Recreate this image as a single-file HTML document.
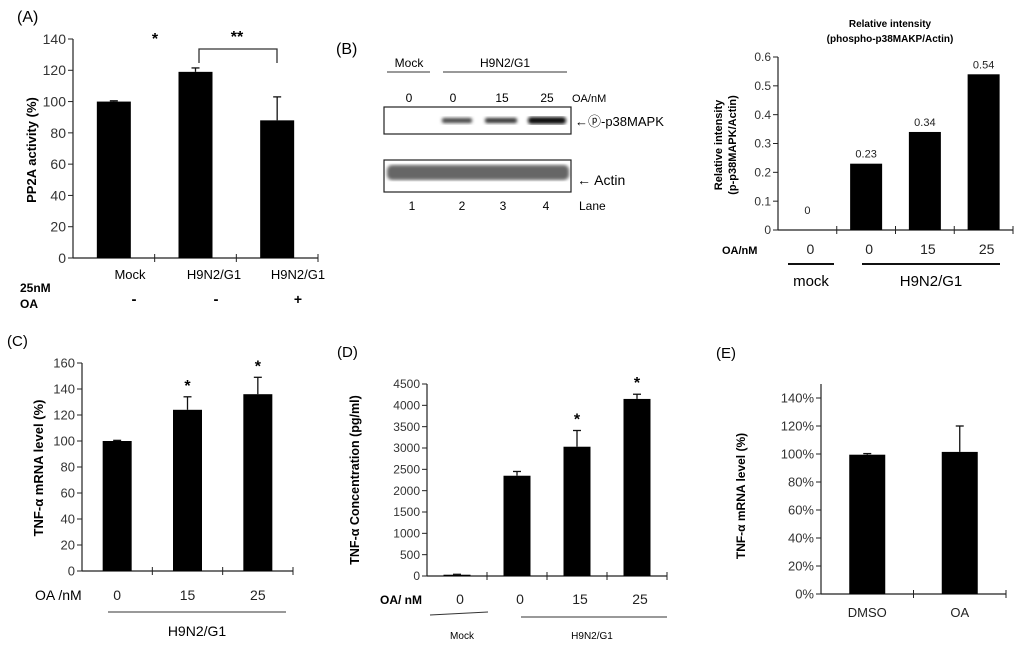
<!DOCTYPE html>
<html><head><meta charset="utf-8"><style>
html,body{margin:0;padding:0;background:#fff;}
svg{display:block;font-family:"Liberation Sans",Arial,sans-serif;}
</style></head><body>
<svg id="fig" width="1024" height="646" viewBox="0 0 1024 646" xmlns="http://www.w3.org/2000/svg">
<defs>
<filter id="blur1"><feGaussianBlur stdDeviation="1.6"/></filter>
</defs>
<g id="static">
<!-- Panel A -->
<text x="17" y="22" font-size="16">(A)</text>
<text transform="translate(36,150) rotate(-90)" text-anchor="middle" font-size="13" font-weight="bold">PP2A activity (%)</text>
<text x="155" y="44" font-size="16" font-weight="bold" text-anchor="middle">*</text>
<text x="237" y="42" font-size="16" font-weight="bold" text-anchor="middle">**</text>
<path d="M199,63 V49 H277 V63" fill="none" stroke="#333" stroke-width="1.3"/>
<text x="130" y="279" font-size="13" text-anchor="middle">Mock</text>
<text x="214" y="279" font-size="13" text-anchor="middle">H9N2/G1</text>
<text x="298" y="279" font-size="13" text-anchor="middle">H9N2/G1</text>
<text x="20" y="292" font-size="12" font-weight="bold">25nM</text>
<text x="20" y="308" font-size="12" font-weight="bold">OA</text>
<text x="134" y="304" font-size="15" font-weight="bold" text-anchor="middle">-</text>
<text x="216" y="304" font-size="15" font-weight="bold" text-anchor="middle">-</text>
<text x="298" y="304" font-size="14" font-weight="bold" text-anchor="middle">+</text>

<!-- Panel B blot -->
<text x="336" y="54" font-size="16">(B)</text>
<text x="409" y="67" font-size="12" text-anchor="middle">Mock</text>
<line x1="387" y1="72" x2="430" y2="72" stroke="#333" stroke-width="1"/>
<text x="505" y="67" font-size="12" text-anchor="middle">H9N2/G1</text>
<line x1="443" y1="72" x2="567" y2="72" stroke="#333" stroke-width="1"/>
<text x="409" y="102" font-size="12" text-anchor="middle">0</text>
<text x="453" y="102" font-size="12" text-anchor="middle">0</text>
<text x="502" y="102" font-size="12" text-anchor="middle">15</text>
<text x="547" y="102" font-size="12" text-anchor="middle">25</text>
<text x="572" y="102" font-size="11">OA/nM</text>
<rect x="384" y="107" width="187" height="27" fill="#fff" stroke="#222" stroke-width="1.2"/>
<g filter="url(#blur1)">
<rect x="442" y="118" width="30" height="5" rx="2" fill="#444"/>
<rect x="485" y="118" width="32" height="5" rx="2" fill="#333"/>
<rect x="528" y="117" width="38" height="7" rx="3" fill="#111"/>
</g>
<text x="575" y="126" font-size="13">←ⓟ-p38MAPK</text>
<rect x="384" y="160" width="187" height="32" fill="#fff" stroke="#222" stroke-width="1.2"/>
<g filter="url(#blur1)">
<rect x="387" y="165" width="182" height="15" rx="5" fill="#666"/>
</g>
<text x="577" y="185" font-size="14">← Actin</text>
<text x="412" y="210" font-size="12" text-anchor="middle">1</text>
<text x="462" y="210" font-size="12" text-anchor="middle">2</text>
<text x="503" y="210" font-size="12" text-anchor="middle">3</text>
<text x="546" y="210" font-size="12" text-anchor="middle">4</text>
<text x="579" y="210" font-size="12">Lane</text>

<!-- Panel B chart -->
<text x="890" y="27" font-size="10" font-weight="bold" text-anchor="middle">Relative intensity</text>
<text x="890" y="42" font-size="10" font-weight="bold" text-anchor="middle">(phospho-p38MAKP/Actin)</text>
<text transform="translate(722,145) rotate(-90)" text-anchor="middle" font-size="11" font-weight="bold">Relative intensity</text>
<text transform="translate(736,145) rotate(-90)" text-anchor="middle" font-size="11" font-weight="bold">(p-p38MAPK/Actin)</text>
<text x="722" y="254" font-size="11" font-weight="bold">OA/nM</text>
<line x1="788" y1="264" x2="834" y2="264" stroke="#111" stroke-width="2"/>
<line x1="862" y1="264" x2="1000" y2="264" stroke="#111" stroke-width="2"/>
<text x="811" y="286" font-size="15" text-anchor="middle">mock</text>
<text x="931" y="286" font-size="15" text-anchor="middle">H9N2/G1</text>

<!-- Panel C -->
<text x="7" y="346" font-size="15">(C)</text>
<text transform="translate(43,468) rotate(-90)" text-anchor="middle" font-size="13" font-weight="bold">TNF-α mRNA level (%)</text>
<text x="35" y="600" font-size="14">OA /nM</text>
<line x1="108" y1="612" x2="286" y2="612" stroke="#333" stroke-width="1"/>
<text x="197" y="636" font-size="14" text-anchor="middle">H9N2/G1</text>

<!-- Panel D -->
<text x="337" y="357" font-size="15">(D)</text>
<text transform="translate(359,480) rotate(-90)" text-anchor="middle" font-size="12.5" font-weight="bold">TNF-α Concentration (pg/ml)</text>
<text x="380" y="604" font-size="12" font-weight="bold">OA/ nM</text>
<line x1="430" y1="615" x2="488" y2="612" stroke="#333" stroke-width="1"/>
<line x1="521" y1="617" x2="667" y2="617" stroke="#333" stroke-width="1"/>
<text x="462" y="639" font-size="10" text-anchor="middle">Mock</text>
<text x="592" y="639" font-size="10" text-anchor="middle">H9N2/G1</text>

<!-- Panel E -->
<text x="716" y="358" font-size="15">(E)</text>
<text transform="translate(745,496) rotate(-90)" text-anchor="middle" font-size="12" font-weight="bold">TNF-α mRNA level (%)</text>
</g>
<g id="charts"></g>
</svg>
<script>
// Panel A
const aCategories = ["Mock", "H9N2/G1", "H9N2/G1 + OA"];
const aValues = [100, 119, 88];
const aErrors = [0.5, 2.5, 15];
const aTicks = [0, 20, 40, 60, 80, 100, 120, 140];
// Panel B chart
const bCategories = ["0", "0", "15", "25"];
const bValues = [0, 0.23, 0.34, 0.54];
const bValueLabels = ["0", "0.23", "0.34", "0.54"];
const bTicks = [0, 0.1, 0.2, 0.3, 0.4, 0.5, 0.6];
// Panel C
const cCategories = ["0", "15", "25"];
const cValues = [100, 124, 136];
const cErrors = [0.5, 10, 13];
const cTicks = [0, 20, 40, 60, 80, 100, 120, 140, 160];
// Panel D
const dCategories = ["0", "0", "15", "25"];
const dValues = [30, 2350, 3030, 4150];
const dErrors = [10, 100, 380, 110];
const dTicks = [0, 500, 1000, 1500, 2000, 2500, 3000, 3500, 4000, 4500];
// Panel E
const eCategories = ["DMSO", "OA"];
const eValues = [99.5, 101.5];
const eErrors = [0.8, 18.5];
const eTicks = [0, 20, 40, 60, 80, 100, 120, 140];

const NS = "http://www.w3.org/2000/svg";
const root = document.getElementById("charts");
function mk(tag, attrs, parent, txt) {
  const e = document.createElementNS(NS, tag);
  for (const k in attrs) e.setAttribute(k, attrs[k]);
  if (txt !== undefined) e.textContent = txt;
  parent.appendChild(e);
  return e;
}
function chart(c) {
  const g = mk("g", {}, root);
  
  
  const yScale = v => c.y0 - (v - c.ymin) / (c.ymax - c.ymin) * (c.y0 - c.y1);
  const bw = (c.x1 - c.x0) / c.cats.length;
  const xScale = i => c.x0 + bw * (i + 0.5);
  const topY = c.axisTop !== undefined ? c.axisTop : c.y1;
  const ya = mk("line", {x1: c.x0, y1: topY, x2: c.x0, y2: c.y0, stroke: "#222", "stroke-width": 1.2}, g);
  
  
  const xa = mk("line", {x1: c.x0, y1: c.y0, x2: c.x1, y2: c.y0, stroke: "#222", "stroke-width": 1.2}, g);
  
  
  c.ticks.forEach((t, i) => {
    const y = yScale(t);
    mk("line", {x1: c.x0 - 5, y1: y, x2: c.x0, y2: y, stroke: "#222", "stroke-width": 1}, g);
    const lab = c.tickLabels ? c.tickLabels[i] : String(t);
    const tx = mk("text", {x: c.x0 - 7, y: y + c.fs * 0.35, "font-size": c.fs, "text-anchor": "end", fill: "#333"}, g, lab);
    
    
  });
  for (let i = 1; i <= c.cats.length; i++) {
    const x = c.x0 + bw * i;
    mk("line", {x1: x, y1: c.y0 - 4, x2: x, y2: c.y0 + 4, stroke: "#222", "stroke-width": 1}, g);
  }
  c.vals.forEach((v, i) => {
    const cx = xScale(i);
    const yt = yScale(v);
    const r = mk("rect", {x: cx - c.barW / 2, y: yt, width: c.barW, height: Math.max(0, c.y0 - yt), fill: "#000"}, g);
    
    
    if (c.errs) {
      const ye = yScale(v + c.errs[i]);
      mk("line", {x1: cx, y1: yt, x2: cx, y2: ye, stroke: "#111", "stroke-width": 1.3}, g);
      mk("line", {x1: cx - 4, y1: ye, x2: cx + 4, y2: ye, stroke: "#111", "stroke-width": 1.3}, g);
    }
    if (c.valLabels) {
      const vl = mk("text", {x: cx, y: yt - 6 - (v === 0 ? 10 : 0), "font-size": 11, "text-anchor": "middle", fill: "#222"}, g, c.valLabels[i]);
      
      
    }
    if (c.catLabels) {
      const cl = mk("text", {x: cx + (c.catDx || 0), y: c.catY, "font-size": c.catFs, "text-anchor": "middle", fill: "#222"}, g, c.cats[i]);
      
      
    }
    if (c.stars && c.stars[i]) {
      const ye = yScale(v + (c.errs ? c.errs[i] : 0));
      const st = mk("text", {x: cx, y: ye - 6, "font-size": 16, "font-weight": "bold", "text-anchor": "middle"}, g, "*");
      
      
    }
  });
}
chart({name: "panel-a-chart", cats: aCategories, vals: aValues, errs: aErrors, ticks: aTicks,
  x0: 73, x1: 318, y0: 258, y1: 39, ymin: 0, ymax: 140, barW: 34, fs: 14});
chart({name: "panel-b-chart", cats: bCategories, vals: bValues, valLabels: bValueLabels, ticks: bTicks,
  tickLabels: bTicks.map(t => t === 0 ? "0" : t.toFixed(1)),
  x0: 778, x1: 1013, y0: 230, y1: 57, ymin: 0, ymax: 0.6, barW: 32, fs: 12,
  catLabels: true, catY: 254, catFs: 14, catDx: 3});
chart({name: "panel-c-chart", cats: cCategories, vals: cValues, errs: cErrors, ticks: cTicks, stars: [false, true, true],
  x0: 82, x1: 293, y0: 571, y1: 363, ymin: 0, ymax: 160, barW: 29, fs: 13,
  catLabels: true, catY: 600, catFs: 14});
chart({name: "panel-d-chart", cats: dCategories, vals: dValues, errs: dErrors, ticks: dTicks, stars: [false, false, true, true],
  x0: 427, x1: 667, y0: 576, y1: 384, ymin: 0, ymax: 4500, barW: 27, fs: 12,
  catLabels: true, catY: 604, catFs: 14, catDx: 3});
chart({name: "panel-e-chart", cats: eCategories, vals: eValues, errs: eErrors, ticks: eTicks,
  tickLabels: eTicks.map(t => t + "%"), axisTop: 384,
  x0: 821, x1: 1006, y0: 594, y1: 398, ymin: 0, ymax: 140, barW: 36, fs: 13,
  catLabels: true, catY: 617, catFs: 13});
</script>
</body></html>
